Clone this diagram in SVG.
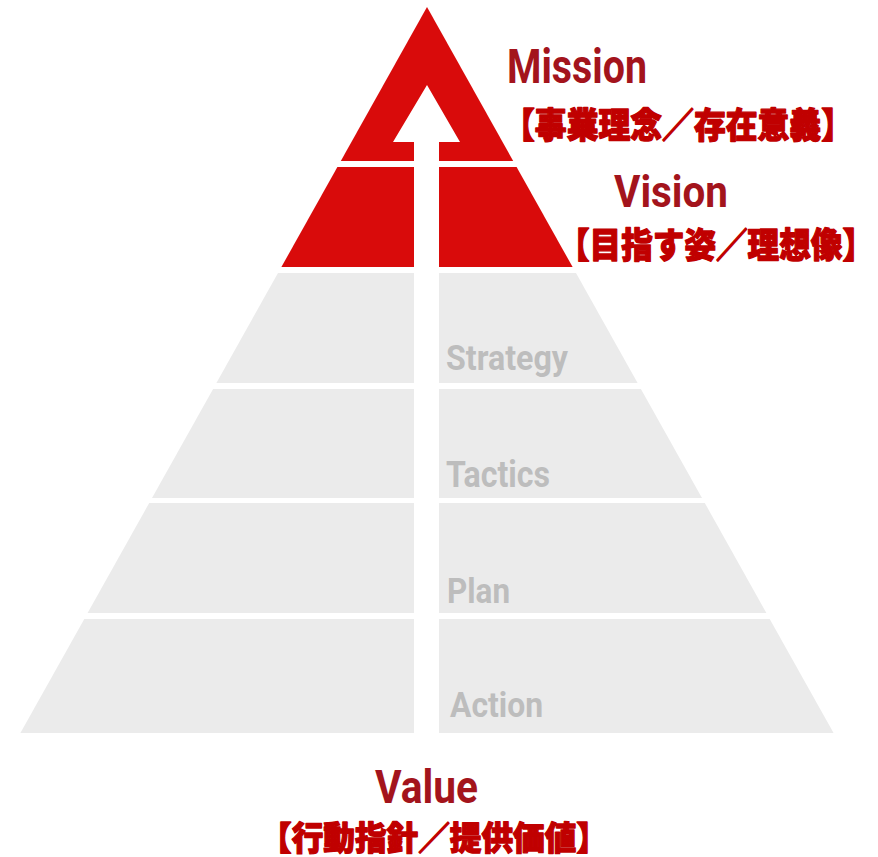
<svg xmlns="http://www.w3.org/2000/svg" width="878" height="857" viewBox="0 0 878 857">
<style>
.red{fill:#D90B0B}
.grey{fill:#EBEBEB}
.en{font-family:Roboto,"Liberation Sans",sans-serif;font-weight:bold}
.title{fill:#A3141C}
.sub{fill:#BDBDBD}
.jp{font-family:"Noto Sans CJK JP","Noto Sans CJK SC",sans-serif;font-weight:900;fill:#C00000;stroke:#C00000;stroke-width:1.3px;stroke-linejoin:round}
</style>
<rect width="878" height="857" fill="#FFFFFF"/>
<g id="mission-band"><polygon class="red" points="427,7 513.2,161 340.8,161"/></g>
<g id="vision-band"><polygon class="red" points="337.4,167 516.6,167 572.6,267 281.4,267"/></g>
<g id="strategy-band"><polygon class="grey" points="278,273 576,273 637.6,383 216.4,383"/></g>
<g id="tactics-band"><polygon class="grey" points="213.1,389 640.9,389 702,498 152,498"/></g>
<g id="plan-band"><polygon class="grey" points="149.2,503 704.8,503 766.4,613 87.6,613"/></g>
<g id="action-band"><polygon class="grey" points="84.3,619 769.7,619 833.6,733 20.4,733"/></g>
<g id="connectors">
<polygon fill="#FFFFFF" points="427,85 460,142 439,142 439,740 414,740 414,142 393,142"/>
</g>
<g id="mission-label">
<text class="en title" x="507" y="83" font-size="49" textLength="140" lengthAdjust="spacingAndGlyphs">Mission</text>
<text class="jp" x="503" y="137.5" font-size="35" textLength="350" lengthAdjust="spacingAndGlyphs">【事業理念／存在意義】</text>
</g>
<g id="vision-label">
<text class="en title" x="614" y="207" font-size="45" textLength="114" lengthAdjust="spacingAndGlyphs">Vision</text>
<text class="jp" x="558" y="257.5" font-size="35" textLength="316" lengthAdjust="spacingAndGlyphs">【目指す姿／理想像】</text>
</g>
<g id="strategy-label"><text class="en sub" x="446" y="370" font-size="35" textLength="122" lengthAdjust="spacingAndGlyphs">Strategy</text></g>
<g id="tactics-label"><text class="en sub" x="446" y="487" font-size="36" textLength="104" lengthAdjust="spacingAndGlyphs">Tactics</text></g>
<g id="plan-label"><text class="en sub" x="447" y="603" font-size="35" textLength="63" lengthAdjust="spacingAndGlyphs">Plan</text></g>
<g id="action-label"><text class="en sub" x="450" y="717" font-size="35" textLength="93" lengthAdjust="spacingAndGlyphs">Action</text></g>
<g id="value-label">
<text class="en title" x="375" y="803" font-size="46" textLength="103" lengthAdjust="spacingAndGlyphs">Value</text>
<text class="jp" x="260" y="850" font-size="33" textLength="348" lengthAdjust="spacingAndGlyphs">【行動指針／提供価値】</text>
</g>
</svg>
